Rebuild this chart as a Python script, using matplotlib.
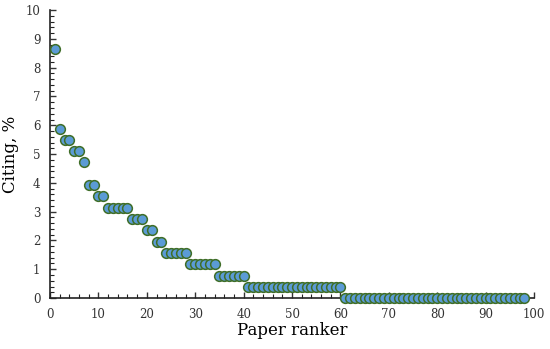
import matplotlib
matplotlib.use("Agg")
import matplotlib.pyplot as plt
from matplotlib.ticker import MultipleLocator

levels = [8.65, 5.88, 5.49, 5.10, 4.71, 3.92, 3.53, 3.14, 2.75, 2.35, 1.96, 1.57, 1.18, 0.78, 0.39, 0.0]
counts = [1, 1, 2, 2, 1, 2, 2, 5, 3, 2, 2, 5, 6, 6, 20, 38]

citing = []
for v, c in zip(levels, counts):
    citing += [v] * c
rank = list(range(1, len(citing) + 1))

plt.rcParams['font.family'] = ['DejaVu Serif']
fig = plt.figure(figsize=(5.5, 3.49), dpi=100)
ax = fig.add_axes([0.091, 0.146, 0.88, 0.825])
ax.plot(rank, citing, linestyle='none', marker='o', markersize=7,
        markerfacecolor='#5b9bd5', markeredgecolor='#3f6e28', markeredgewidth=1.1,
        clip_on=False, zorder=3)
ax.set_xlim(0, 100)
ax.set_ylim(0, 10)
ax.xaxis.set_major_locator(MultipleLocator(10))
ax.xaxis.set_minor_locator(MultipleLocator(2))
ax.yaxis.set_major_locator(MultipleLocator(1))
ax.yaxis.set_minor_locator(MultipleLocator(0.2))
for s in ['top', 'right']:
    ax.spines[s].set_visible(False)
for s in ['left', 'bottom']:
    ax.spines[s].set_linewidth(1.2)
    ax.spines[s].set_color('#222222')
ax.tick_params(which='major', direction='in', length=4, width=1, labelsize=8.5, colors='#333333', pad=7)
ax.tick_params(which='minor', direction='in', length=3, width=0.8, colors='#222222')
ax.set_xlabel('Paper ranker', fontsize=12, labelpad=1)
ax.set_ylabel('Citing, %', fontsize=12, labelpad=5)
fig.savefig('out.png', dpi=100)
